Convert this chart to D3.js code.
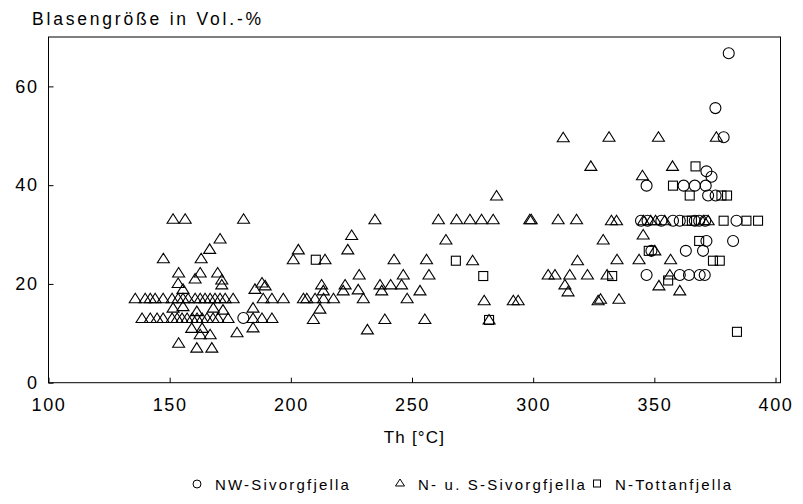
<!DOCTYPE html>
<html><head><meta charset="utf-8">
<script src="https://cdn.jsdelivr.net/npm/d3@7"></script>
<style>body{margin:0;background:#fff}svg{display:block}text{font-family:"Liberation Sans",Arial,sans-serif;fill:#000}</style>
</head><body>
<script>
// ---- data: [Th °C, Blasengröße Vol.-%] ----
const nwSivorgfjella = [
 [180.4,13.1],[380.7,66.7],[375.2,55.6],[378.6,49.7],[371.5,42.8],[373.6,41.7],
 [346.8,39.9],[362.1,39.9],[366.7,39.9],[371.2,39.9],[372.2,37.9],[375.3,37.9],
 [344.5,32.8],[347.2,32.8],[352.9,32.8],[357.7,32.8],[360.5,32.8],[366.7,32.8],[368.5,32.8],[371,32.8],[383.9,32.8],
 [371.5,28.7],[382.5,28.7],[348.8,26.7],[363,26.7],[370.1,26.7],
 [346.8,21.8],[360.5,21.8],[364.3,21.8],[368.7,21.8],[370.8,21.8]
];
const nsSivorgfjella = [
 [135.8,17],[139.9,17],[142,17],[144,17],[147.3,17],[151,17],[153.5,17],[155.5,17],[157.6,17],[160.5,17],[162.6,17],[164.6,17],[166.7,17],[168.7,17],[170.8,17],[172.9,17],[176.2,17],[188.6,17],[192.2,17],[196.9,17],[205.2,17],[206.6,17],[210,17],[213.5,17],[217.6,17],[229.9,17],[248,17],
 [138.6,13],[142,13],[144.8,13],[147.3,13],[151,13],[153.1,13],[155.1,13],[157.2,13],[159.3,13],[161.3,13],[163.4,13],[165.4,13],[167.9,13],[170,13],[174.1,13],[184.4,13],[188.1,13],[192.2,13],[209.3,12.8],[238.8,12.8],[255.3,12.8],[281.8,12.7],
 [151.4,33.1],[156.4,33.1],[180.5,33.1],[170.8,29.1],[166.5,27],[147.4,25.1],[163,25.1],[153.7,22.2],[162.6,22.2],[169.8,22.2],[160.5,21],[171.5,20.8],[171.5,19.8],[153.5,20.1],[155.5,18.9],[185.2,18.9],[188.1,20.2],[189.4,19.6],
 [151.4,15.1],[155.5,15.4],[161.2,14.4],[168,15.1],[172,14.7],[184.4,15.1],
 [159.1,11],[163.4,11],[162.6,9.7],[166.7,9.7],[177.8,10.1],[184.4,11.1],[153.7,8],[161.2,7],[167.4,7],
 [234.7,33],[225.1,29.8],[203.1,26.9],[223.5,26.9],[201,24.9],[214.1,24.9],[242.6,24.9],[256,24.9],[228.2,21.8],[246.4,21.8],[257,21.8],
 [212.7,19.8],[213.4,18.6],[222.4,19.8],[221.6,18.6],[227.8,18.8],[236.8,19.8],[237.5,18.6],[241.2,19.8],[245.7,19.8],[253.3,18.6],[212,14.9],[231.6,10.7],
 [312.4,49.6],[323.8,43.8],[284.9,37.8],
 [260.9,33],[268.4,33],[273.9,33],[278.7,33],[283.5,33],[298.6,33],[299.2,33],[310.3,33],[317.9,33],
 [264,28.9],[275,24.7],[318.3,24.7],[306.2,21.8],[309,21.8],[315.1,21.8],[322.4,21.8],[313.1,19.8],[314.4,18.4],
 [279.8,16.6],[291.8,16.6],[293.8,16.6],[326.8,16.6],
 [331.3,49.7],[351.7,49.7],[375.6,49.7],[357.5,43.8],[345.1,41.9],
 [332.3,32.8],[334.4,32.8],[345.5,32.8],[348.5,32.8],[350.5,32.8],[354.3,32.8],[370.4,32.8],[372.2,32.8],
 [328.9,28.9],[345.4,29.9],[350.2,26.7],[334.6,24.9],[343.7,24.9],[356.7,24.9],[330.5,21.8],[356.4,21.8],
 [351.9,19.6],[360.5,18.6],[327.8,16.9],[335.4,16.9]
];
const nTottanfjella = [
 [210.3,24.9],[268.1,24.7],[279.4,21.6],[281.8,12.7],
 [367,43.8],[357.7,39.9],[364.6,37.9],[377.7,37.9],[380,37.9],
 [363.5,32.8],[365.5,32.8],[378.6,32.8],[388,32.8],[392.8,32.8],
 [368.5,28.7],[347.7,26.7],[374.2,24.7],[377,24.7],[332.6,21.6],[355.7,20.7],[384.1,10.3]
];
const xTicks = [100,150,200,250,300,350,400];
const yTicks = [0,20,40,60];
const yTitle = "Blasengröße in Vol.-%";
const xTitle = "Th [°C]";
const legendLabels = ["NW-Sivorgfjella","N- u. S-Sivorgfjella","N-Tottanfjella"];

// ---- drawing ----
const W=803,H=504;
const svg=d3.select("body").append("svg").attr("width",W).attr("height",H);
const x=d3.scaleLinear().domain([100,400]).range([48.5,775.5]);
const y=d3.scaleLinear().domain([0,70]).range([382.7,37]);
const frameRight=780.5;

const g=svg.append("g").attr("stroke","#000").attr("fill","none").attr("stroke-width",1);
g.append("rect").attr("x",x(100)).attr("y",y(70)).attr("width",frameRight-x(100)).attr("height",y(0)-y(70));

const xAxis=svg.append("g").attr("transform",`translate(0,${y(0)})`)
 .call(d3.axisBottom(x).tickValues(xTicks).tickSizeInner(-5).tickSizeOuter(0).tickPadding(16));
xAxis.select(".domain").remove();
xAxis.selectAll("text").attr("font-size",18).attr("letter-spacing",1.6).attr("dy","0.71em");
const yAxis=svg.append("g").attr("transform",`translate(${x(100)},0)`)
 .call(d3.axisLeft(y).tickValues(yTicks).tickSizeInner(-5).tickSizeOuter(0).tickPadding(10));
yAxis.select(".domain").remove();
yAxis.selectAll("text").attr("font-size",18).attr("letter-spacing",1.6);
svg.selectAll(".tick line").attr("stroke","#000");
svg.selectAll(".tick text").attr("font-family",'"Liberation Sans",Arial,sans-serif').attr("fill","#000");

svg.append("text").attr("x",32).attr("y",25).attr("font-size",17.5).attr("letter-spacing",2.8).text(yTitle);
svg.append("text").attr("x",(x(100)+frameRight)/2).attr("y",443).attr("text-anchor","middle").attr("font-size",17).attr("letter-spacing",1.2).text(xTitle);

const tri="M-6,4L6,4L0,-5.5Z";
const pts=svg.append("g").attr("fill","none").attr("stroke","#000").attr("stroke-width",1.1);
pts.selectAll(".tri").data(nsSivorgfjella).join("path").attr("d",tri)
 .attr("transform",d=>`translate(${x(d[0])},${y(d[1])})`);
pts.selectAll(".sq").data(nTottanfjella).join("rect").attr("width",9).attr("height",9)
 .attr("x",d=>x(d[0])-4.5).attr("y",d=>y(d[1])-4.5);
pts.selectAll(".ci").data(nwSivorgfjella).join("circle").attr("r",5.5)
 .attr("cx",d=>x(d[0])).attr("cy",d=>y(d[1]));

// legend
const ly=490;
const lg=svg.append("g");
const lx=[197,400,597];
lg.append("circle").attr("cx",lx[0]).attr("cy",ly-6).attr("r",4).attr("fill","none").attr("stroke","#000");
lg.append("path").attr("d","M-4.5,3L4.5,3L0,-4Z").attr("transform",`translate(${lx[1]},${ly-7})`).attr("fill","none").attr("stroke","#000");
lg.append("rect").attr("x",lx[2]-3.5).attr("y",ly-10).attr("width",7).attr("height",7).attr("fill","none").attr("stroke","#000");
legendLabels.forEach((t,i)=>{
 lg.append("text").attr("x",lx[i]+18).attr("y",ly).attr("font-size",15).attr("letter-spacing",2.2).text(t);
});
</script>
</body></html>
